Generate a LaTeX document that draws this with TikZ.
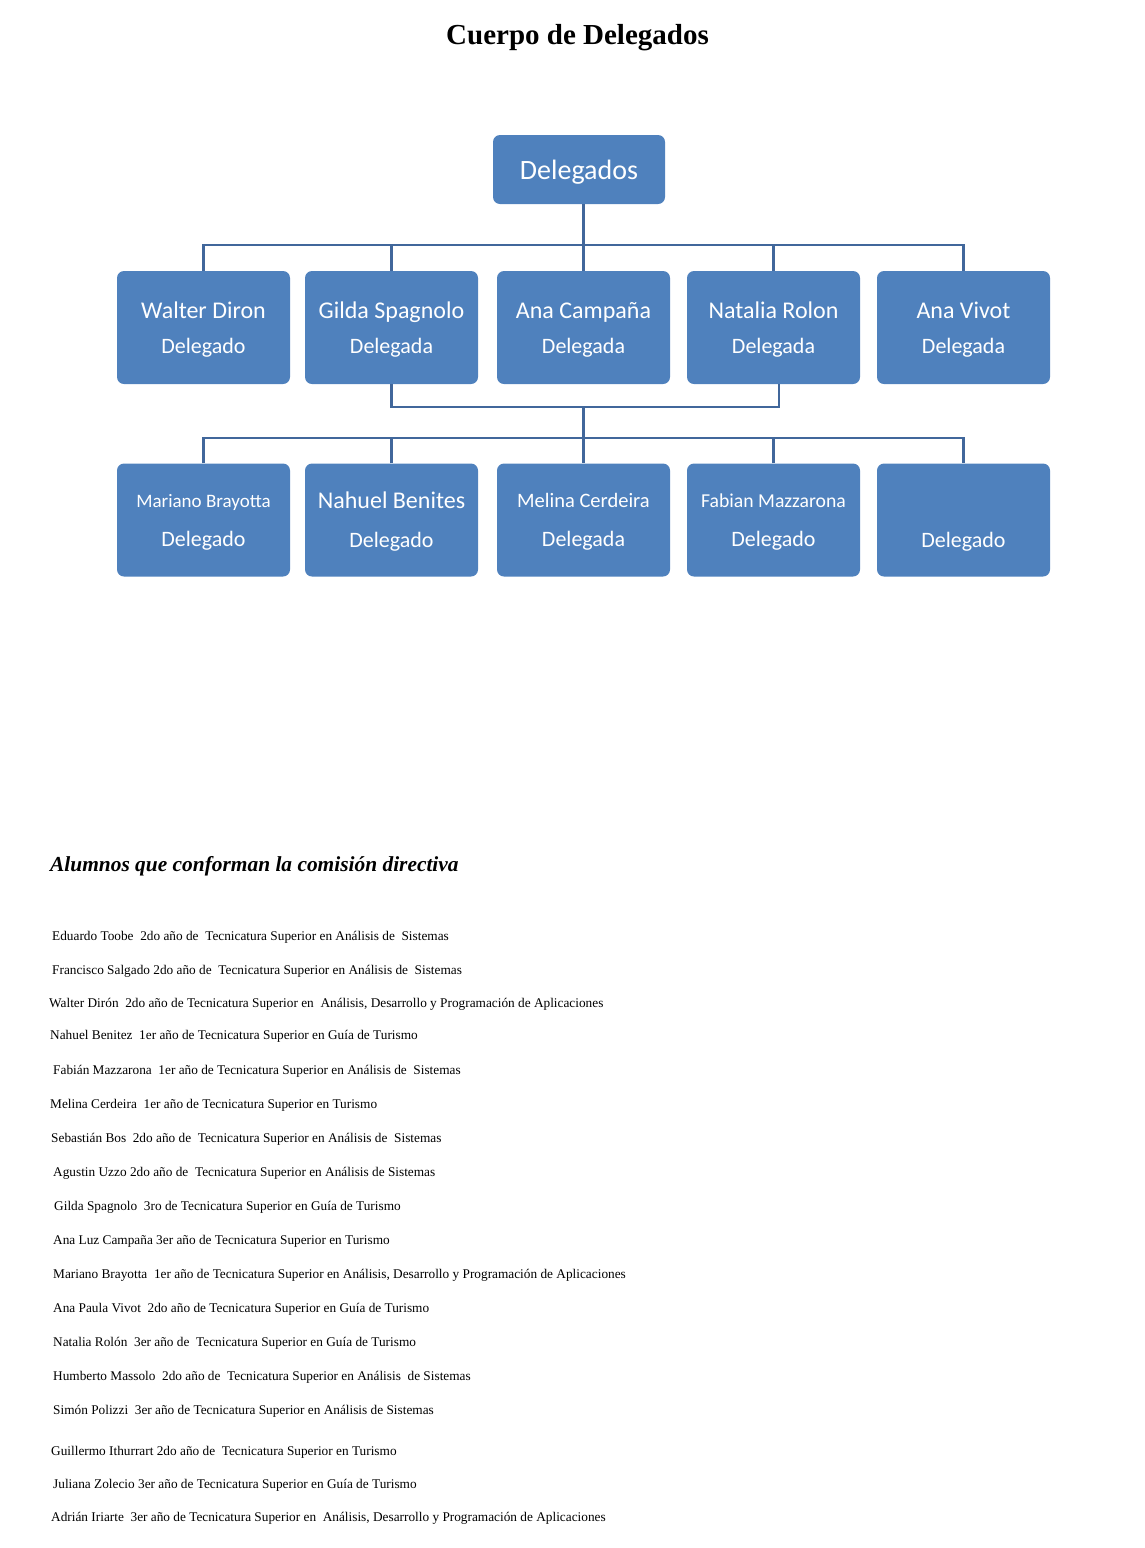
\documentclass[tikz,border=0pt]{standalone}
\usepackage{fontspec}
\setmainfont{Liberation Serif}
\newfontfamily\boxfont{Carlito}
\definecolor{cajaazul}{HTML}{4F81BD}
\definecolor{lineaazul}{HTML}{41679B}
\begin{document}
\begin{tikzpicture}[x=1pt, y=-1pt,
    caja/.style={fill=cajaazul, rounded corners=7pt, minimum width=173pt, minimum height=113pt,
                 text=white, align=center, text depth=0pt, font=\boxfont\fontsize{22}{35}\selectfont},
    caja2/.style={caja, font=\boxfont\fontsize{22}{39}\selectfont},
    linea/.style={draw=lineaazul, line width=2.6pt},
    renglon/.style={anchor=base west, inner sep=0pt, font=\fontsize{13.3}{16}\selectfont}]
    \useasboundingbox (0,0) rectangle (1145,1548);

    \node[anchor=base, font=\bfseries\fontsize{29}{34}\selectfont] (titulo) at (577.5,44) {Cuerpo de Delegados};

    % organigrama
    \node[caja, minimum width=172pt, minimum height=69pt, font=\boxfont\fontsize{28}{34}\selectfont] (delegados) at (579,169.5) {Delegados};

    \node[caja] (walter) at (203.5,327.5) {{\fontsize{24}{35}\selectfont Walter Diron}\\Delegado};
    \node[caja] (gilda) at (391.5,327.5) {{\fontsize{24}{35}\selectfont Gilda Spagnolo}\\Delegada};
    \node[caja] (anac) at (583.5,327.5) {{\fontsize{24}{35}\selectfont Ana Campaña}\\Delegada};
    \node[caja] (natalia) at (773.5,327.5) {{\fontsize{24}{35}\selectfont Natalia Rolon}\\Delegada};
    \node[caja] (anav) at (963.5,327.5) {{\fontsize{24}{35}\selectfont Ana Vivot}\\Delegada};

    \node[caja2] (mariano) at (203.5,520) {{\fontsize{19}{39}\selectfont Mariano Brayotta}\\Delegado};
    \node[caja2] (nahuel) at (391.5,520) {{\fontsize{24}{39}\selectfont Nahuel Benites}\\Delegado};
    \node[caja2] (melina) at (583.5,520) {{\fontsize{20.5}{36}\selectfont Melina Cerdeira}\\Delegada};
    \node[caja2] (fabian) at (773.5,520) {{\fontsize{19.7}{38}\selectfont Fabian Mazzarona}\\Delegado};
    \node[caja2] (quinto) at (963.5,520) {\phantom{\fontsize{24}{39}\selectfont Nahuel}\\Delegado};

    \coordinate (j1) at (583.5,245);
    \coordinate (j2) at (583.5,407);
    \coordinate (j3) at (583.5,438);

    \draw[linea] (delegados.south -| j1) -- (anac.north);
    \draw[linea] (walter.north) |- (j1) -| (anav.north);
    \draw[linea] (gilda.north) -- (gilda.north |- j1);
    \draw[linea] (natalia.north) -- (natalia.north |- j1);

    % union de la segunda fila
    \draw[linea] (gilda.south) |- (j2) -| ([xshift=5.5pt]natalia.south);
    \draw[linea] (j2) -- (melina.north);
    \draw[linea] (mariano.north) |- (j3) -| (quinto.north);
    \draw[linea] (nahuel.north) -- (nahuel.north |- j3);
    \draw[linea] (fabian.north) -- (fabian.north |- j3);

    % lista de alumnos
    \node[anchor=base west, inner sep=0pt, font=\bfseries\itshape\fontsize{21.4}{25}\selectfont] (comision) at (50,871) {Alumnos que conforman la comisión directiva};

    \node[renglon] (l1) at (52,940) {Eduardo Toobe~ 2do año de~ Tecnicatura Superior en Análisis de~ Sistemas};
    \node[renglon] (l2) at (52,974) {Francisco Salgado 2do año de~ Tecnicatura Superior en Análisis de~ Sistemas};
    \node[renglon] (l3) at (49,1007) {Walter Dirón~ 2do año de Tecnicatura Superior en~ Análisis, Desarrollo y Programación de Aplicaciones};
    \node[renglon] (l4) at (50,1039) {Nahuel Benitez~ 1er año de Tecnicatura Superior en Guía de Turismo};
    \node[renglon] (l5) at (53,1074) {Fabián Mazzarona~ 1er año de Tecnicatura Superior en Análisis de~ Sistemas};
    \node[renglon] (l6) at (50,1108) {Melina Cerdeira~ 1er año de Tecnicatura Superior en Turismo};
    \node[renglon] (l7) at (51,1142) {Sebastián Bos~ 2do año de~ Tecnicatura Superior en Análisis de~ Sistemas};
    \node[renglon] (l8) at (53,1176) {Agustin Uzzo 2do año de~ Tecnicatura Superior en Análisis de Sistemas};
    \node[renglon] (l9) at (54,1210) {Gilda Spagnolo~ 3ro de Tecnicatura Superior en Guía de Turismo};
    \node[renglon] (l10) at (53,1244) {Ana Luz Campaña 3er año de Tecnicatura Superior en Turismo};
    \node[renglon] (l11) at (53,1278) {Mariano Brayotta~ 1er año de Tecnicatura Superior en Análisis, Desarrollo y Programación de Aplicaciones};
    \node[renglon] (l12) at (53,1312) {Ana Paula Vivot~ 2do año de Tecnicatura Superior en Guía de Turismo};
    \node[renglon] (l13) at (53,1346) {Natalia Rolón~ 3er año de~ Tecnicatura Superior en Guía de Turismo};
    \node[renglon] (l14) at (53,1380) {Humberto Massolo~ 2do año de~ Tecnicatura Superior en Análisis~ de Sistemas};
    \node[renglon] (l15) at (53,1414) {Simón Polizzi~ 3er año de Tecnicatura Superior en Análisis de Sistemas};
    \node[renglon] (l16) at (51,1455) {Guillermo Ithurrart 2do año de~ Tecnicatura Superior en Turismo};
    \node[renglon] (l17) at (53,1488) {Juliana Zolecio 3er año de Tecnicatura Superior en Guía de Turismo};
    \node[renglon] (l18) at (51,1521) {Adrián Iriarte~ 3er año de Tecnicatura Superior en~ Análisis, Desarrollo y Programación de Aplicaciones};
\end{tikzpicture}
\end{document}
